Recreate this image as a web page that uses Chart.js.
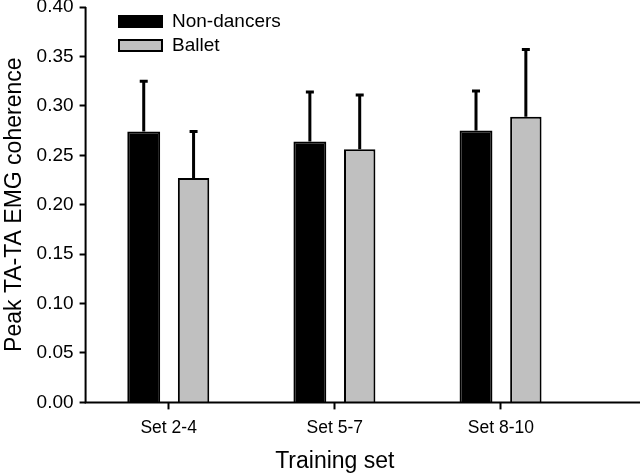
<!DOCTYPE html>
<html>
<head>
<meta charset="utf-8">
<script src="https://cdn.jsdelivr.net/npm/chart.js@4"></script>
<style>
  html, body { margin: 0; padding: 0; background: #fff; }
  #wrap { width: 640px; height: 476px; }
</style>
</head>
<body>
<div id="wrap"><canvas id="chart" width="640" height="476"></canvas></div>
<script>
// Data
const categories = ['Set 2-4', 'Set 5-7', 'Set 8-10'];
const nonDancers = [0.274, 0.264, 0.275];
const nonDancersErr = [0.051, 0.050, 0.040];
const ballet = [0.227, 0.256, 0.289];
const balletErr = [0.047, 0.055, 0.068];
const yTicks = [0, 0.05, 0.10, 0.15, 0.20, 0.25, 0.30, 0.35, 0.40];

const FONT = 'Liberation Sans, Arial, sans-serif';

// Upward-only error bars
const errorBars = {
    id: 'errorBars',
    afterDatasetsDraw(chart) {
        const ctx = chart.ctx;
        const y = chart.scales.y;
        const errs = [nonDancersErr, balletErr];
        ctx.save();
        ctx.strokeStyle = '#000';
        ctx.lineWidth = 3;
        chart.data.datasets.forEach((ds, i) => {
            const meta = chart.getDatasetMeta(i);
            meta.data.forEach((bar, j) => {
                const top = y.getPixelForValue(ds.data[j]);
                const end = y.getPixelForValue(ds.data[j] + errs[i][j]);
                ctx.beginPath();
                ctx.moveTo(bar.x, top);
                ctx.lineTo(bar.x, end);
                ctx.moveTo(bar.x - 4, end);
                ctx.lineTo(bar.x + 4, end);
                ctx.stroke();
            });
        });
        ctx.restore();
    }
};

// Axis lines, x-axis runs to the right edge like the original
const axisLines = {
    id: 'axisLines',
    afterDraw(chart) {
        const ctx = chart.ctx;
        const a = chart.chartArea;
        ctx.save();
        ctx.strokeStyle = '#000';
        ctx.lineWidth = 2;
        ctx.beginPath();
        ctx.moveTo(a.left, a.top);
        ctx.lineTo(a.left, a.bottom);
        ctx.lineTo(chart.width, a.bottom);
        ctx.stroke();
        ctx.restore();
    }
};

// Legend drawn by hand to match the boxed swatches
const legendBoxes = {
    id: 'legendBoxes',
    afterDraw(chart) {
        const ctx = chart.ctx;
        ctx.save();
        ctx.lineWidth = 2;
        ctx.strokeStyle = '#000';
        ctx.fillStyle = '#000';
        ctx.fillRect(118, 15, 45, 13);
        ctx.fillStyle = '#c0c0c0';
        ctx.fillRect(119, 40, 43, 11);
        ctx.strokeRect(119, 40, 43, 11);
        ctx.fillStyle = '#000';
        ctx.font = '19px ' + FONT;
        ctx.textBaseline = 'middle';
        chart.data.datasets.forEach((ds, i) => {
            ctx.fillText(ds.label, 172, 22 + i * 24);
        });
        ctx.restore();
    }
};

new Chart(document.getElementById('chart'), {
    type: 'bar',
    data: {
        labels: categories,
        datasets: [
            {
                label: 'Non-dancers',
                data: nonDancers,
                backgroundColor: '#000',
                borderColor: '#000',
                borderWidth: 2,
                categoryPercentage: 0.6,
                barPercentage: 0.66
            },
            {
                label: 'Ballet',
                data: ballet,
                backgroundColor: '#c0c0c0',
                borderColor: '#000',
                borderWidth: 2,
                categoryPercentage: 0.6,
                barPercentage: 0.63
            }
        ]
    },
    options: {
        responsive: false,
        animation: false,
        layout: { padding: { top: 0, right: 56, left: 1, bottom: 1 } },
        plugins: {
            legend: { display: false },
            tooltip: { enabled: false }
        },
        scales: {
            x: {
                grid: { display: true, offset: false, drawOnChartArea: false, tickLength: 7, tickColor: '#000', tickWidth: 2 },
                border: { display: false },
                ticks: { color: '#000', font: { family: FONT, size: 17.5 }, padding: 8 },
                title: { display: true, text: 'Training set', color: '#000', font: { family: FONT, size: 23 }, padding: { top: 1, bottom: 0 } }
            },
            y: {
                min: 0,
                max: 0.4,
                afterBuildTicks(scale) { scale.ticks = yTicks.map(v => ({ value: v })); },
                afterFit(scale) { scale.paddingTop = 7; },
                grid: { display: true, drawOnChartArea: false, tickLength: 6, tickColor: '#000', tickWidth: 2 },
                border: { display: false },
                ticks: {
                    color: '#000',
                    font: { family: FONT, size: 19 },
                    padding: 6,
                    callback: v => v.toFixed(2)
                },
                title: { display: true, text: 'Peak TA-TA EMG coherence', color: '#000', font: { family: FONT, size: 23 }, padding: { top: 0, bottom: 2 } }
            }
        }
    },
    plugins: [errorBars, axisLines, legendBoxes]
});
</script>
</body>
</html>
